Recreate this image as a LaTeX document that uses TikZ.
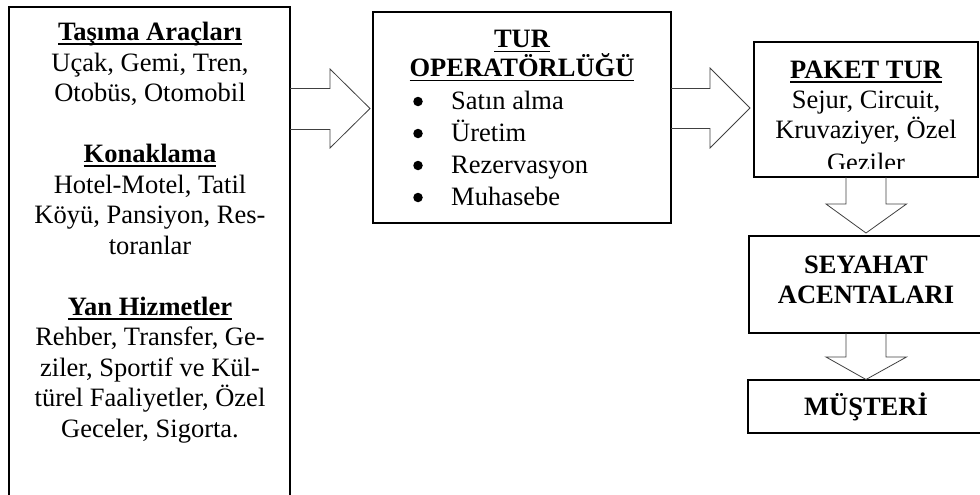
\documentclass[tikz,border=0pt]{standalone}
\usepackage{fontspec}
\setmainfont{Liberation Serif}
\usetikzlibrary{calc}
% underline set just below the baseline (clears cedillas only slightly)
\newcommand\hdline[1]{\setbox0=\hbox{#1}\rlap{\rule[-4.5pt]{\wd0}{1.6pt}}\box0}

\begin{document}
\begin{tikzpicture}[x=1pt,y=-1pt,
  box/.style={draw=black, line width=1.3pt, outer sep=0pt, inner sep=0pt, anchor=north west},
  txt/.style={inner sep=0pt, anchor=base, font=\fontsize{26.5}{30.5}\selectfont},
  hd/.style={inner sep=0pt, anchor=base, font=\fontsize{26.5}{30.5}\selectfont\bfseries},
  item/.style={inner sep=0pt, anchor=base west, font=\fontsize{26.5}{30.5}\selectfont},
  dot/.style={circle, fill=black, inner sep=0pt, minimum size=9.5pt},
  blockarrow/.style={draw=black!75, line width=0.8pt, line join=miter}]
\useasboundingbox (0,0) rectangle (980,495);
\clip (0,0) rectangle (980,495);

% boxes
\node[box, minimum width=281pt, minimum height=510pt] (src) at (9,7) {};
\node[box, minimum width=298pt, minimum height=211pt] (op) at (373,12) {};
\node[box, minimum width=224pt, minimum height=135pt] (pkt) at (754,42) {};
\node[box, minimum width=234pt, minimum height=97pt] (acn) at (749,236) {};
\node[box, minimum width=236pt, minimum height=53pt] (cus) at (748,380) {};

% services column
\node[hd]  (s1)  at (150,40.5)  {\hdline{Taşıma Araçları}};
\node[txt] (s2)  at (150,71)    {Uçak, Gemi, Tren,};
\node[txt] (s3)  at (150,101.5) {Otobüs, Otomobil};
\node[hd]  (s4)  at (150,162.5) {\hdline{Konaklama}};
\node[txt] (s5)  at (150,193)   {Hotel-Motel, Tatil};
\node[txt] (s6)  at (150,223.5) {Köyü, Pansiyon, Res-};
\node[txt] (s7)  at (150,254)   {toranlar};
\node[hd]  (s8)  at (150,315)   {\hdline{Yan Hizmetler}};
\node[txt] (s9)  at (150,345.5) {Rehber, Transfer, Ge-};
\node[txt] (s10) at (150,376)   {ziler, Sportif ve Kül-};
\node[txt] (s11) at (150,406.5) {türel Faaliyetler, Özel};
\node[txt] (s12) at (150,437)   {Geceler, Sigorta.};

% tour operator
\node[hd] (o1) at (522,48) {\hdline{TUR}};
\node[hd] (o2) at (522,77) {\hdline{OPERATÖRLÜĞÜ}};
\node[dot]  (b1) at (418,101.5) {};
\node[item] (i1) at (451,109) {Satın alma};
\node[dot]  (b2) at (418,133.5) {};
\node[item] (i2) at (451,141) {Üretim};
\node[dot]  (b3) at (418,165.5) {};
\node[item] (i3) at (451,173) {Rezervasyon};
\node[dot]  (b4) at (418,197.5) {};
\node[item] (i4) at (451,205) {Muhasebe};

% package tour (last line cut by the frame)
\begin{scope}
  \clip (pkt.north west) rectangle ($(pkt.south east)+(0,-8.5)$);
  \node[hd]  (p1) at (866,78)  {\hdline{PAKET TUR}};
  \node[txt] (p2) at (866,108) {Sejur, Circuit,};
  \node[txt] (p3) at (866,138) {Kruvaziyer, Özel};
  \node[txt] (p4) at (866,171) {Geziler};
\end{scope}

\node[hd] (a1) at (866,273) {SEYAHAT};
\node[hd] (a2) at (866,303) {ACENTALARI};
\node[hd] (c1) at (866,415) {MÜŞTERİ};

% block arrows
\coordinate (t1) at ($(op.west |- 0,108.5)+(-3,0)$);
\draw[blockarrow] (src.east |- 0,88.5) -- ++(40,0) -- ++(0,-19.5) -- (t1)
  -- ++(-40,39.5) -- ++(0,-18.5) -- (src.east |- 0,129.5);

\coordinate (t2) at ($(pkt.west |- 0,108)+(-4,0)$);
\draw[blockarrow] (op.east |- 0,88.5) -- ++(39,0) -- ++(0,-20.5) -- (t2)
  -- ++(-40,40) -- ++(0,-19.5) -- (op.east |- 0,128.5);

\coordinate (t3) at ($(acn.north -| pkt.south)+(0,-3)$);
\draw[blockarrow] ($(pkt.south)+(-20,0)$) -- ++(0,27) -- ++(-20,0) -- (t3)
  -- ++(40.5,-29) -- ++(-20.5,0) -- ($(pkt.south)+(20,0)$);

\coordinate (t4) at ($(cus.north -| acn.south)+(0,-0.5)$);
\draw[blockarrow] ($(acn.south)+(-20,0)$) -- ++(0,24) -- ++(-20,0) -- (t4)
  -- ++(40.5,-22.5) -- ++(-20.5,0) -- ($(acn.south)+(20,0)$);
\end{tikzpicture}
\end{document}
